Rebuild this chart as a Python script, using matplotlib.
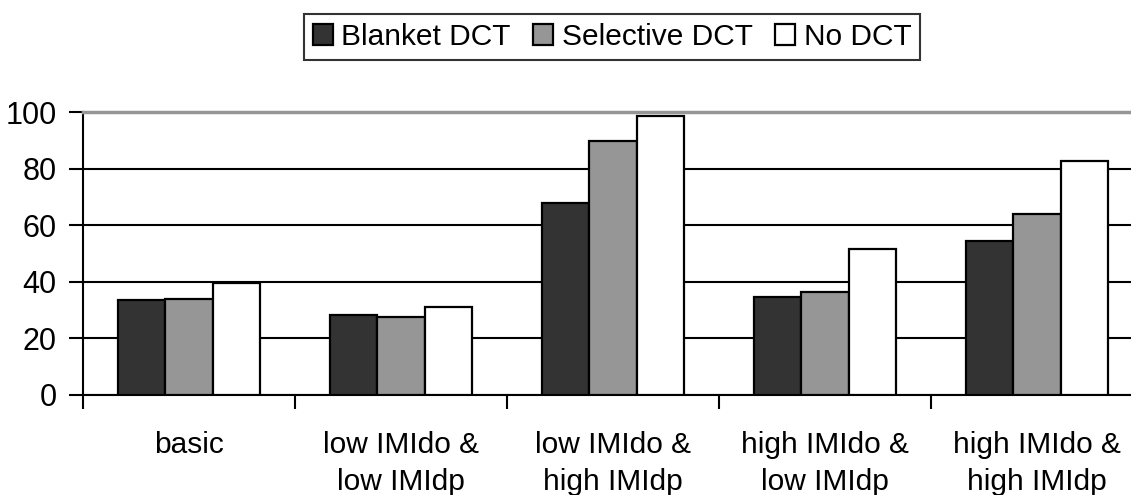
import numpy as np
import matplotlib
matplotlib.use('Agg')
import matplotlib.pyplot as plt
from matplotlib.ticker import FixedLocator

plt.rcParams['font.family'] = ['Liberation Sans', 'DejaVu Sans']

# data
categories = ['basic', 'low IMIdo &\nlow IMIdp', 'low IMIdo &\nhigh IMIdp',
              'high IMIdo &\nlow IMIdp', 'high IMIdo &\nhigh IMIdp']
series_names = ['Blanket DCT', 'Selective DCT', 'No DCT']
blanket = [33.6, 28.2, 67.7, 34.7, 54.3]
selective = [34.0, 27.4, 89.6, 36.4, 64.0]
no_dct = [39.6, 31.2, 98.7, 51.5, 82.8]
y_ticks = [0, 20, 40, 60, 80, 100]

colors = ['#333333', '#969696', '#ffffff']

fig = plt.figure(figsize=(11.31, 4.95), dpi=100)
ax = fig.add_axes([83 / 1131, 100 / 495, 1060 / 1131, 283 / 495])

x = np.arange(len(categories)) + 0.5
w = 0.222
for i, (vals, name) in enumerate(zip([blanket, selective, no_dct], series_names)):
    ax.bar(x + (i - 1) * w, vals, w, color=colors[i], edgecolor='black',
           linewidth=1.6, label=name, zorder=3)

ax.set_xlim(0, 5)
ax.set_ylim(0, 100)
ax.set_yticks(y_ticks)
ax.yaxis.grid(True, color='black', linewidth=1.5)
ax.set_axisbelow(True)

ax.set_xticks(x)
ax.set_xticklabels(categories, fontsize=21.5, linespacing=1.4)
ax.xaxis.set_minor_locator(FixedLocator(np.arange(0, 6)))
ax.tick_params(axis='x', which='major', length=0, pad=26)
ax.tick_params(axis='x', which='minor', length=10, width=1.5, direction='out')
ax.tick_params(axis='y', length=10, width=1.5, direction='out', labelsize=22, pad=9)

for s in ['left', 'bottom']:
    ax.spines[s].set_linewidth(1.5)
ax.spines['top'].set_color('#969696')
ax.spines['top'].set_linewidth(2.5)
ax.spines['right'].set_visible(False)

leg = fig.legend(loc='center', bbox_to_anchor=(612 / 1131, 1 - 37 / 495), ncol=3,
                 fontsize=21.5, frameon=True, fancybox=False, edgecolor='black',
                 handlelength=0.68, handleheight=0.68, handletextpad=0.28,
                 columnspacing=0.75, borderpad=0.3, borderaxespad=0)
leg.get_frame().set_linewidth(1.5)

fig.savefig('out.png', dpi=100)
